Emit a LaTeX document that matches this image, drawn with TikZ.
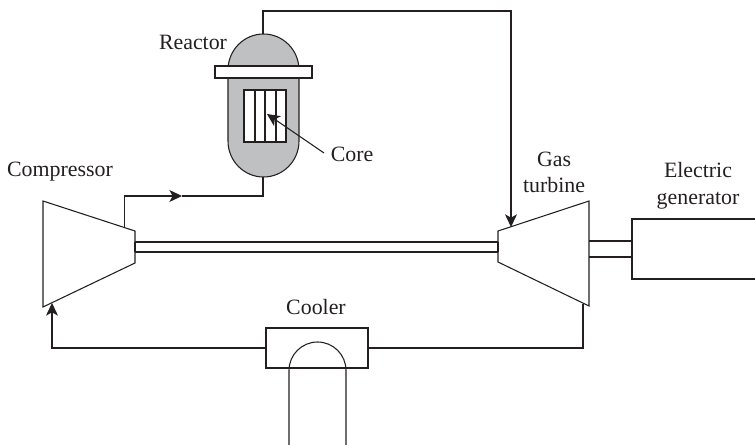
\documentclass[tikz,border=0pt]{standalone}
\usepackage{fontspec}
\setmainfont{Liberation Serif}
\usetikzlibrary{arrows.meta}
\definecolor{ink}{HTML}{231F20}
\definecolor{vessel}{HTML}{BFC0C2}
\tikzset{
  pipe/.style={draw=ink,line width=0.8pt},
  flow/.style={pipe,-{Stealth[length=9.5pt,width=9pt,inset=2.5pt,color=ink]}},
  part/.style={draw=ink,line width=0.8pt,fill=white},
  lab/.style={text=ink,font=\fontsize{16.4pt}{20pt}\selectfont,align=center,inner sep=0pt},
  joint/.style={draw=ink,line width=2pt}
}
\begin{document}
\begin{tikzpicture}[x=0.75pt,y=-0.75pt]
\useasboundingbox (0,0) rectangle (755,445);
% anchor points
\coordinate (rtop) at (263,34);
\coordinate (rbot) at (263,177);
\coordinate (cout) at (124.5,228);
\coordinate (cin) at (52,303);
\coordinate (tin) at (511,227);
\coordinate (tout) at (583,304);
\coordinate (hot) at (182,196);
\coordinate (cl) at (266,348);
\coordinate (cr) at (368,348);
\coordinate (uLend) at (289,445);
\coordinate (uRend) at (346,445);
\coordinate (coreTip) at (267,114);
\coordinate (coreTail) at (324,153);
% reactor vessel
\path[pipe,fill=vessel] (228,70) arc[start angle=180,end angle=360,x radius=35.5,y radius=36] -- (299,141)
  arc[start angle=0,end angle=180,x radius=35.5,y radius=36] -- cycle;
\node[part,minimum width=72.75pt,minimum height=9pt,inner sep=0pt] (flange) at (263.5,72) {};
\node[part,minimum width=31.5pt,minimum height=39pt,inner sep=0pt] (core) at (265,116) {};
\draw[pipe] (255,90) -- (255,142) (265,90) -- (265,142) (276,90) -- (276,142);
\draw[flow] (coreTail) -- (coreTip);
% compressor and turbine
\path[part] (43,201) -- (135,231) -- (135,263) -- (43,307) -- cycle;
\path[part] (498,231) -- (589,201) -- (589,306) -- (498,262) -- cycle;
% shafts
\draw[pipe] (135,242) -- (498,242) (135,252) -- (498,252);
\draw[joint] (135,242) -- (135,252) (498,242) -- (498,252);
\draw[pipe] (589,241) -- (632,241) (589,257) -- (632,257);
% generator
\draw[pipe] (755,219) -- (632,219) -- (632,279) -- (755,279);
\draw[joint] (632,241) -- (632,257);
% cooler
\node[part,minimum width=76.5pt,minimum height=30pt,inner sep=0pt] (cooler) at (317,348) {};
\draw[pipe] (uLend) -- (289,370.5) arc[start angle=180,end angle=360,radius=28.5] -- (uRend);
% piping
\draw[flow] (rtop) -- (263,11) -| (tin);
\draw[flow] (cout) |- (hot);
\draw[pipe] (hot) -- (263,196) -- (rbot);
\draw[flow] (cl) -| (cin);
\draw[pipe] (cr) -| (tout);
% labels
\node[lab] (lreactor) at (193,42) {Reactor};
\node[lab] (lcore) at (352,154) {Core};
\node[lab] (lcomp) at (60,172) {Compressor};
\node[lab] (lgas) at (554,172.5) {Gas\\turbine};
\node[lab] (lgen) at (698,186) {Electric\\generator};
\node[lab] (lcool) at (316,307) {Cooler};
\end{tikzpicture}
\end{document}
